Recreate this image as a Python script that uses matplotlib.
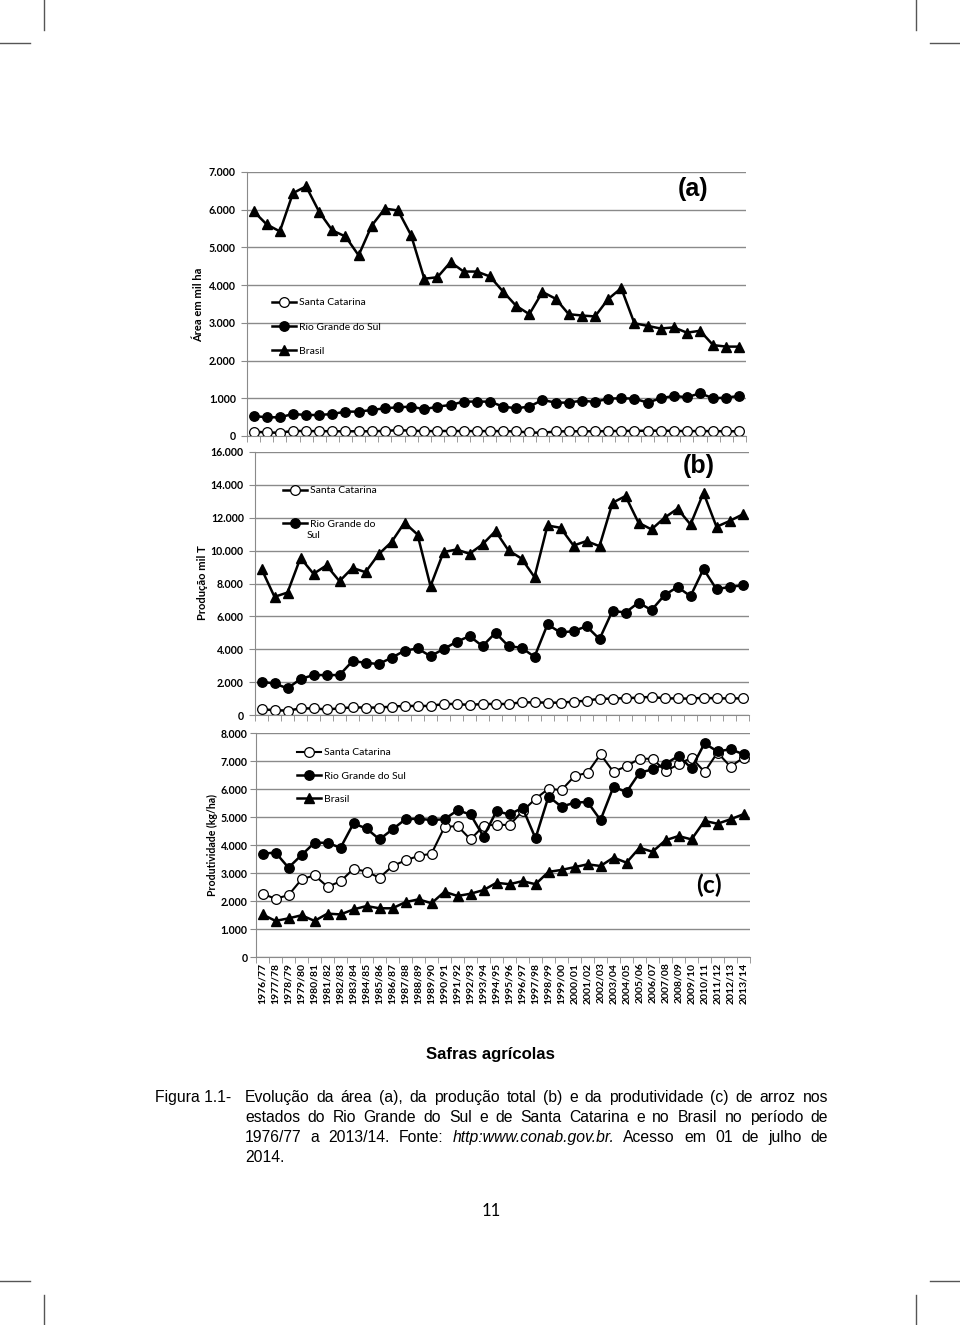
import numpy as np
import matplotlib
matplotlib.use('Agg')
import matplotlib.pyplot as plt
from matplotlib.lines import Line2D
from matplotlib.ticker import FuncFormatter
from matplotlib import font_manager

safras = ['1976/77', '1977/78', '1978/79', '1979/80', '1980/81', '1981/82', '1982/83',
          '1983/84', '1984/85', '1985/86', '1986/87', '1987/88', '1988/89', '1989/90',
          '1990/91', '1991/92', '1992/93', '1993/94', '1994/95', '1995/96', '1996/97',
          '1997/98', '1998/99', '1999/00', '2000/01', '2001/02', '2002/03', '2003/04',
          '2004/05', '2005/06', '2006/07', '2007/08', '2008/09', '2009/10', '2010/11',
          '2011/12', '2012/13', '2013/14']

# (a) area, mil ha
area_sc = [115, 95, 85, 135, 130, 130, 125, 125, 125, 125, 135, 155, 140, 130, 130, 135, 130, 130, 130,
           130, 120, 95, 85, 120, 125, 125, 125, 130, 135, 135, 140, 140, 135, 130, 130, 130, 125, 125]
area_rs = [530, 496, 496, 584, 557, 557, 584, 646, 646, 690, 735, 761, 779, 708, 779, 823, 912, 912, 912,
           779, 735, 779, 956, 885, 885, 938, 903, 991, 1000, 991, 885, 1000, 1062, 1027, 1133, 1000, 1018, 1062]
area_br = [5960, 5610, 5425, 6440, 6620, 5940, 5450, 5290, 4790, 5580, 6030, 5980, 5320, 4170, 4210, 4610,
           4360, 4360, 4230, 3830, 3450, 3230, 3820, 3640, 3230, 3195, 3170, 3630, 3920, 2990, 2920, 2850,
           2880, 2740, 2790, 2410, 2370, 2370]

# (b) producao, mil t
prod_sc = [340, 300, 260, 400, 400, 340, 400, 470, 450, 450, 510, 550, 550, 550, 670, 670, 610, 670, 670,
           670, 770, 770, 750, 750, 810, 870, 990, 990, 1030, 1050, 1110, 1010, 1010, 990, 1050, 1010, 1010, 1010]
prod_rs = [2020, 1920, 1620, 2190, 2430, 2430, 2430, 3280, 3180, 3100, 3480, 3910, 4050, 3580, 4010, 4450,
           4800, 4190, 5000, 4190, 4090, 3540, 5510, 5020, 5100, 5400, 4620, 6340, 6230, 6840, 6380, 7290,
           7790, 7230, 8880, 7650, 7790, 7890]
prod_br = [8890, 7190, 7450, 9560, 8590, 9100, 8140, 8950, 8690, 9770, 10520, 11700, 10980, 7840, 9910,
           10070, 9810, 10380, 11190, 10010, 9520, 8390, 11530, 11390, 10310, 10580, 10270, 12910, 13320,
           11700, 11290, 12000, 12550, 11590, 13520, 11450, 11800, 12200]

# (c) produtividade, kg/ha
prodt_sc = [2260, 2080, 2210, 2770, 2920, 2510, 2700, 3150, 3050, 2830, 3250, 3450, 3610, 3690, 4640, 4680,
            4200, 4680, 4730, 4710, 5210, 5650, 6010, 5960, 6460, 6580, 7240, 6610, 6820, 7080, 7080, 6640,
            6880, 7120, 6610, 7300, 6800, 7120]
prodt_rs = [3690, 3730, 3190, 3640, 4080, 4080, 3900, 4770, 4590, 4200, 4560, 4920, 4940, 4890, 4920, 5240,
            5090, 4300, 5210, 5090, 5330, 4240, 5730, 5370, 5510, 5540, 4890, 6080, 5890, 6580, 6700, 6900,
            7180, 6740, 7630, 7340, 7420, 7240]
prodt_br = [1520, 1290, 1380, 1490, 1290, 1550, 1520, 1700, 1820, 1740, 1740, 1960, 2060, 1920, 2330, 2180,
            2260, 2390, 2650, 2600, 2710, 2600, 3040, 3110, 3210, 3310, 3250, 3550, 3370, 3900, 3760, 4170,
            4320, 4200, 4860, 4760, 4920, 5100]

W, H = 960, 1325
grid_c = '#8a8a8a'

names = {f.name for f in font_manager.fontManager.ttflist}
if 'Liberation Sans Narrow' in names:
    cap_font, cap_size = 'Liberation Sans Narrow', 13.2
else:
    cap_font, cap_size = 'Liberation Sans', 11.3

plt.rcParams['font.family'] = ['Lato', 'DejaVu Sans']
plt.rcParams['font.weight'] = 'bold'

fig = plt.figure(figsize=(W / 100, H / 100), dpi=100)


def fx(x):
    return x / W


def fy(y):
    return 1 - y / H


def new_ax(left, top, right, bottom):
    return fig.add_axes([fx(left), fy(bottom), (right - left) / W, (bottom - top) / H])


def milhar(v, pos):
    return f'{int(v):,}'.replace(',', '.')


def style_ax(ax, ymax, step, labels, pad):
    n = len(safras)
    ax.set_xlim(-0.5, n - 0.5)
    ax.set_ylim(0, ymax)
    ax.set_yticks(np.arange(0, ymax + 1, step))
    ax.yaxis.set_major_formatter(FuncFormatter(milhar))
    ax.grid(axis='y', color=grid_c, lw=1)
    ax.set_axisbelow(True)
    for s in ['top', 'right']:
        ax.spines[s].set_visible(False)
    for s in ['left', 'bottom']:
        ax.spines[s].set_color(grid_c)
    ax.tick_params(axis='y', length=4, color=grid_c, labelsize=7.6, pad=pad)
    ax.set_xticks(np.arange(n))
    ax.set_xticks(np.arange(n + 1) - 0.5, minor=True)
    ax.tick_params(axis='x', which='major', length=0, pad=4)
    ax.tick_params(axis='x', which='minor', length=4, color=grid_c)
    if labels:
        ax.set_xticklabels(safras, rotation=90, fontsize=7.5)
    else:
        ax.set_xticklabels([])


sc_st = dict(color='black', lw=1.8, marker='o', ms=7, mfc='white', mec='black', mew=0.9)
rs_st = dict(color='black', lw=1.8, marker='o', ms=6.8, mfc='black', mec='black')
br_st = dict(color='black', lw=1.8, marker='^', ms=6.8, mfc='black', mec='black')
x = np.arange(len(safras))
leg_kw = dict(frameon=False, borderpad=0, borderaxespad=0, handlelength=2.3, handletextpad=0.3,
              prop={'weight': 'normal', 'size': 7.5}, loc='upper left')

# (a)
ax1 = new_ax(247, 172, 746, 436)
style_ax(ax1, 7000, 1000, False, 4)
ax1.plot(x, area_sc, label='Santa Catarina', **sc_st)
ax1.plot(x, area_rs, label='Rio Grande do Sul', **rs_st)
ax1.plot(x, area_br, label='Brasil', **br_st)
ax1.legend(bbox_to_anchor=(fx(272), fy(298)), bbox_transform=fig.transFigure, labelspacing=1.45, **leg_kw)
fig.text(fx(693), fy(189), '(a)', ha='center', va='center', fontsize=18,
         family='Liberation Sans', weight='bold')
fig.text(fx(199), fy(305), 'Área em mil ha', rotation=90, ha='center', va='center', fontsize=8)

# (b)
ax2 = new_ax(255, 452, 749, 715)
style_ax(ax2, 16000, 2000, False, 4)
ax2.plot(x, prod_sc, label='Santa Catarina', **sc_st)
ax2.plot(x, prod_rs, label='Rio Grande do', **rs_st)
ax2.plot(x, prod_br, **br_st)
ax2.legend(bbox_to_anchor=(fx(283), fy(486)), bbox_transform=fig.transFigure, labelspacing=2.3, **leg_kw)
fig.text(fx(307), fy(535), 'Sul', ha='left', va='center', fontsize=7.5, weight='normal')
fig.text(fx(699), fy(466), '(b)', ha='center', va='center', fontsize=18,
         family='Liberation Sans', weight='bold')
fig.text(fx(203), fy(583), 'Produção mil T', rotation=90, ha='center', va='center', fontsize=8)

# (c)
ax3 = new_ax(256, 733, 750, 957)
style_ax(ax3, 8000, 1000, True, 2)
ax3.plot(x, prodt_sc, label='Santa Catarina', **dict(sc_st, lw=1.5))
ax3.plot(x, prodt_rs, label='Rio Grande do Sul', **rs_st)
ax3.plot(x, prodt_br, label='Brasil', **br_st)
ax3.legend(bbox_to_anchor=(fx(297), fy(748)), bbox_transform=fig.transFigure, labelspacing=1.35, **leg_kw)
fig.text(fx(709), fy(885), '(c)', ha='center', va='center', fontsize=18, weight='bold')
fig.text(fx(212), fy(845), 'Produtividade (kg/ha)', rotation=90, ha='center', va='center', fontsize=7.6)

# caption
cap = dict(family=[cap_font, 'Liberation Sans'], fontsize=cap_size, weight='normal', va='baseline')
fig.text(fx(491), fy(1059), 'Safras agrícolas', ha='center', **dict(cap, weight='bold', fontsize=cap_size + 0.8))
fig.text(fx(155), fy(1102), 'Figura 1.1-', ha='left', **cap)

linhas = [
    'Evolução da área (a), da produção total (b) e da produtividade (c) de arroz nos',
    'estados do Rio Grande do Sul e de Santa Catarina e no Brasil no período de',
    '1976/77 a 2013/14. Fonte: http:www.conab.gov.br. Acesso em 01 de julho de',
]
renderer = fig.canvas.get_renderer()
for i, linha in enumerate(linhas):
    y = 1102 + 20 * i
    words = linha.split(' ')
    texts = []
    for w in words:
        style = 'italic' if w.startswith('http') else 'normal'
        texts.append(fig.text(0, fy(y), w, ha='left', style=style, **cap))
    widths = [t.get_window_extent(renderer).width for t in texts]
    gap = (828 - 245 - sum(widths)) / (len(texts) - 1)
    xx = 245
    for t, wd in zip(texts, widths):
        t.set_x(fx(xx))
        xx += wd + gap
fig.text(fx(245), fy(1162), '2014.', ha='left', **cap)

fig.text(fx(491), fy(1211), '11', ha='center', va='center', fontsize=12, weight='normal')

# crop marks
for xs, ys in [((44, 44), (0, 30)), ((0, 30), (43, 43)), ((916, 916), (0, 30)), ((930, 960), (43, 43)),
               ((44, 44), (1295, 1325)), ((0, 30), (1281, 1281)), ((916, 916), (1295, 1325)),
               ((930, 960), (1281, 1281))]:
    fig.add_artist(Line2D([fx(v) for v in xs], [fy(v) for v in ys], transform=fig.transFigure,
                          color='#555555', lw=1))

fig.savefig('out.png', dpi=100)
